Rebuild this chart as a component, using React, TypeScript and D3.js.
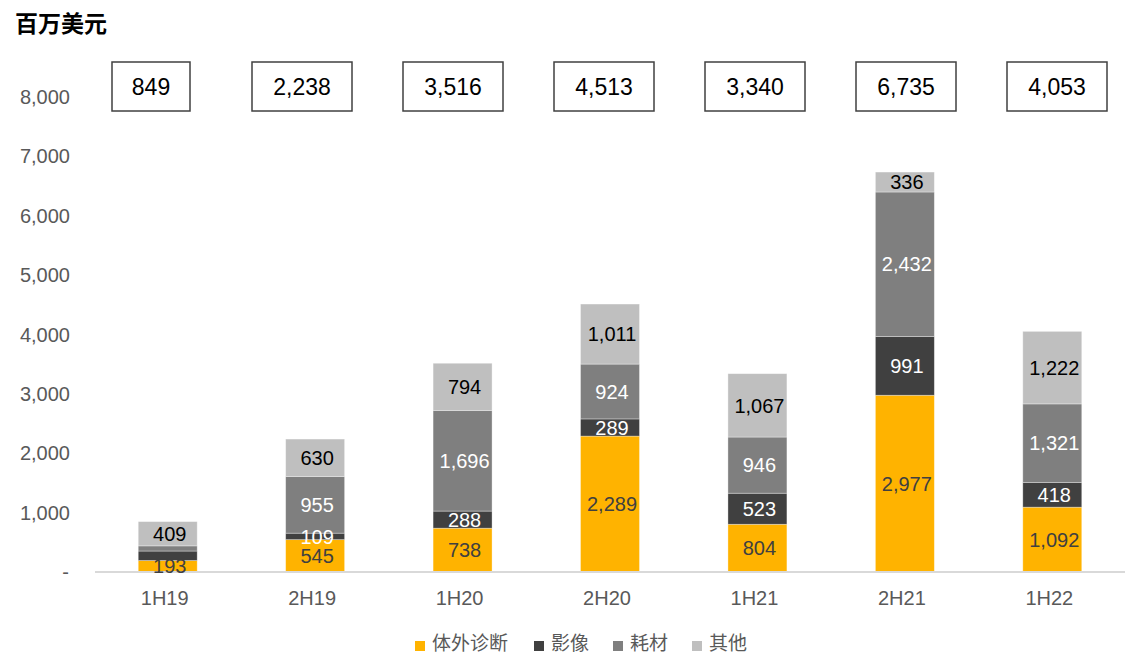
import React from "react";
import * as d3 from "d3";

const categories = ["1H19", "2H19", "1H20", "2H20", "1H21", "2H21", "1H22"];
const seriesNames = ["体外诊断", "影像", "耗材", "其他"];
const ivd = [193, 545, 738, 2289, 804, 2977, 1092];
const imaging = [160, 109, 288, 289, 523, 991, 418];
const consumables = [87, 955, 1696, 924, 946, 2432, 1321];
const others = [409, 630, 794, 1011, 1067, 336, 1222];
const totals = [849, 2238, 3516, 4513, 3340, 6735, 4053];
const yTicks = [0, 1000, 2000, 3000, 4000, 5000, 6000, 7000, 8000];
// which segment labels are shown (1H19 small segments hidden)
const showLabel = [
  [true, true, true, true, true, true, true],
  [false, true, true, true, true, true, true],
  [false, true, true, true, true, true, true],
  [true, true, true, true, true, true, true],
];

const W = 1125;
const H = 654;
const colors = ["#FFB300", "#404040", "#7F7F7F", "#BFBFBF"];
const labelColors = ["#404040", "#ffffff", "#ffffff", "#000000"];
const numFont = "'Liberation Sans', Arial, sans-serif";
const cjkFont = "'Noto Sans CJK SC', 'Liberation Sans', sans-serif";

export default function App() {
  const series = [ivd, imaging, consumables, others];
  const x = d3.scaleBand<string>().domain(categories).range([94, 1126]).paddingInner(0.6).paddingOuter(0.3);
  const y = d3.scaleLinear().domain([0, 8000]).range([572, 97]);
  const boxX = d3.scalePoint<string>().domain(categories).range([151, 1057]);
  const fmt = d3.format(",");

  const table = categories.map((c, i) => {
    const row: any = { cat: c };
    seriesNames.forEach((s, k) => (row[s] = series[k][i]));
    return row;
  });
  const stacked = d3.stack<any>().keys(seriesNames)(table);

  // legend layout
  const legendFs = 19;
  let lx = 415;
  const legendItems = seriesNames.map((s, k) => {
    const item = { s, k, x: lx };
    lx += 10 + 7 + s.length * 20 + 22;
    return item;
  });

  return (
    <svg width={W} height={H} style={{ display: "block", position: "absolute", left: 0, top: 0 }}>
      <rect width={W} height={H} fill="#ffffff" />
      <text x={15} y={32} fontFamily={cjkFont} fontWeight="bold" fontSize={23} fill="#000">
        百万美元
      </text>

      {/* y ticks */}
      {yTicks.map((t) => (
        <text
          key={t}
          x={t === 0 ? 69 : 70}
          y={y(t)}
          dy="0.35em"
          textAnchor="end"
          fontFamily={numFont}
          fontSize={20}
          fill="#595959"
        >
          {t === 0 ? "-" : fmt(t)}
        </text>
      ))}

      {/* bars */}
      {stacked.map((layer, k) => (
        <g key={k}>
          {layer.map((d, i) => (
            <rect
              key={i}
              x={x(categories[i])}
              width={x.bandwidth()}
              y={y(d[1])}
              height={y(d[0]) - y(d[1])}
              fill={colors[k]}
              stroke="#ffffff"
              strokeOpacity={0.45}
              strokeWidth={0.75}
            />
          ))}
        </g>
      ))}

      {/* baseline */}
      <line x1={95} x2={1125} y1={y(0)} y2={y(0)} stroke="#d9d9d9" strokeWidth={2} />

      {/* segment labels */}
      {stacked.map((layer, k) => (
        <g key={"l" + k}>
          {layer.map((d, i) =>
            showLabel[k][i] ? (
              <text
                key={i}
                x={(x(categories[i]) as number) + x.bandwidth() / 2 + 2}
                y={(y(d[0]) + y(d[1])) / 2}
                dy="0.36em"
                textAnchor="middle"
                fontFamily={numFont}
                fontSize={20}
                fill={labelColors[k]}
              >
                {fmt(series[k][i])}
              </text>
            ) : null
          )}
        </g>
      ))}

      {/* category labels */}
      {categories.map((c) => (
        <text
          key={c}
          x={(x(c) as number) + x.bandwidth() / 2 - 3}
          y={598}
          dy="0.35em"
          textAnchor="middle"
          fontFamily={numFont}
          fontSize={20}
          fill="#595959"
        >
          {c}
        </text>
      ))}

      {/* total boxes */}
      {categories.map((c, i) => {
        const label = fmt(totals[i]);
        const bw = label.length <= 3 ? 78 : 100;
        const cx = boxX(c) as number;
        return (
          <g key={"t" + c}>
            <rect x={cx - bw / 2} y={62} width={bw} height={49} fill="#ffffff" stroke="#404040" strokeWidth={1.5} />
            <text x={cx} y={86.5} dy="0.36em" textAnchor="middle" fontFamily={numFont} fontSize={23} fill="#000">
              {label}
            </text>
          </g>
        );
      })}

      {/* legend */}
      {legendItems.map((it) => (
        <g key={it.s}>
          <rect x={it.x} y={641} width={10} height={10} fill={colors[it.k]} />
          <text x={it.x + 17} y={650} fontFamily={cjkFont} fontSize={legendFs} fill="#595959">
            {it.s}
          </text>
        </g>
      ))}
    </svg>
  );
}
